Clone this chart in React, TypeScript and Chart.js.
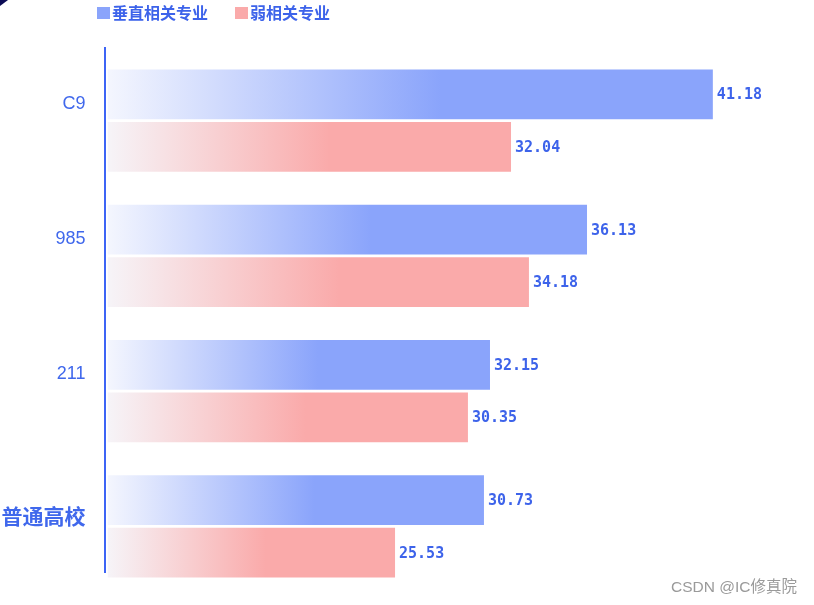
import React, { useEffect, useRef } from "react";
import { Chart, registerables } from "chart.js";

Chart.register(...registerables);

const categories = ["C9", "985", "211", "普通高校"];
const seriesNames = ["垂直相关专业", "弱相关专业"];
// bar lengths as drawn
const verticalBars = [41.18, 32.62, 26.02, 25.61];
const weakBars = [27.45, 28.67, 24.52, 19.56];
// value labels shown at bar ends
const verticalLabels = ["41.18", "36.13", "32.15", "30.73"];
const weakLabels = ["32.04", "34.18", "30.35", "25.53"];
const xMax = 45;

const BLUE = "#8aa4fb";
const BLUE_LIGHT = "#f4f6fe";
const PINK = "#faaaaa";
const PINK_LIGHT = "#f6f4f8";
const TEXT_BLUE = "#3d63ea";

function gradientFor(full: string, light: string) {
  return (ctx: any) => {
    const chart = ctx.chart;
    const area = chart.chartArea;
    if (!area || ctx.type !== "data") return full;
    const xs = chart.scales.x;
    const x0 = xs.getPixelForValue(0);
    const x1 = xs.getPixelForValue(ctx.raw as number);
    if (!isFinite(x0) || !isFinite(x1) || x1 <= x0) return full;
    const g = chart.ctx.createLinearGradient(x0, 0, x1, 0);
    g.addColorStop(0, light);
    g.addColorStop(0.55, full);
    g.addColorStop(1, full);
    return g;
  };
}

const decorPlugin = {
  id: "decor",
  afterDatasetsDraw(chart: any) {
    const { ctx } = chart;
    ctx.save();
    const labelSets = [verticalLabels, weakLabels];
    ctx.font = "bold 15px 'DejaVu Sans Mono'";
    ctx.fillStyle = TEXT_BLUE;
    ctx.textAlign = "left";
    ctx.textBaseline = "middle";
    chart.data.datasets.forEach((_: any, di: number) => {
      const meta = chart.getDatasetMeta(di);
      meta.data.forEach((bar: any, i: number) => {
        ctx.fillText(labelSets[di][i], bar.x + 4, bar.y + 1);
      });
    });
    ctx.restore();
  },
  afterDraw(chart: any) {
    const { ctx } = chart;
    ctx.save();
    // axis line
    ctx.strokeStyle = "#3d64f5";
    ctx.lineWidth = 2;
    ctx.beginPath();
    ctx.moveTo(105, 47);
    ctx.lineTo(105, 573);
    ctx.stroke();
    // legend
    const colors = [BLUE, PINK];
    const starts = [97, 235];
    ctx.font = "bold 16px 'Noto Sans CJK SC'";
    ctx.textBaseline = "middle";
    ctx.textAlign = "left";
    seriesNames.forEach((name, i) => {
      ctx.fillStyle = colors[i];
      ctx.fillRect(starts[i], 7, 13, 12);
      ctx.fillStyle = TEXT_BLUE;
      ctx.fillText(name, starts[i] + 15, 13);
    });
    // corner mark
    ctx.fillStyle = "#0b0b55";
    ctx.beginPath();
    ctx.moveTo(0, 0);
    ctx.lineTo(8, 0);
    ctx.lineTo(0, 6);
    ctx.closePath();
    ctx.fill();
    // watermark
    ctx.font = "15.5px 'Liberation Sans', 'Noto Sans CJK SC'";
    ctx.fillStyle = "#9a9a9a";
    ctx.textBaseline = "middle";
    ctx.fillText("CSDN @IC修真院", 671, 588);
    ctx.restore();
  },
};

export default function App() {
  const ref = useRef<HTMLCanvasElement | null>(null);
  useEffect(() => {
    if (!ref.current) return;
    const chart = new Chart(ref.current, {
      type: "bar",
      data: {
        labels: categories,
        datasets: [
          {
            label: seriesNames[0],
            data: verticalBars,
            backgroundColor: gradientFor(BLUE, BLUE_LIGHT),
            categoryPercentage: 0.776,
            barPercentage: 0.952,
          },
          {
            label: seriesNames[1],
            data: weakBars,
            backgroundColor: gradientFor(PINK, PINK_LIGHT),
            categoryPercentage: 0.776,
            barPercentage: 0.952,
          },
        ],
      },
      options: {
        indexAxis: "y",
        animation: false,
        responsive: false,
        layout: { padding: { left: 0, top: 53, bottom: 11, right: 45 } },
        plugins: {
          legend: { display: false },
          tooltip: { enabled: false },
        },
        scales: {
          x: { min: 0, max: xMax, display: false },
          y: {
            grid: { display: false, drawTicks: false },
            border: { display: false },
            afterFit: (scale: any) => {
              scale.width = 107.5;
              scale.paddingTop = 0;
              scale.paddingBottom = 0;
            },
            ticks: {
              padding: 22,
              labelOffset: -17,
              color: "#4068ec",
              callback: (_v: any, i: number) => (i === 3 ? ["", categories[i]] : categories[i]),
              font: (c: any) =>
                c.index === 3
                  ? { family: "'Noto Sans CJK SC'", size: 21, weight: "bold", lineHeight: 0.68 }
                  : { family: "'Liberation Sans', Arial", size: 18, weight: "normal" },
            },
          },
        },
      },
      plugins: [decorPlugin],
    });
    return () => chart.destroy();
  }, []);
  return (
    <div style={{ position: "fixed", left: 0, top: 0, width: 814, height: 605, background: "#fff" }}>
      <canvas ref={ref} width={814} height={605} />
    </div>
  );
}
